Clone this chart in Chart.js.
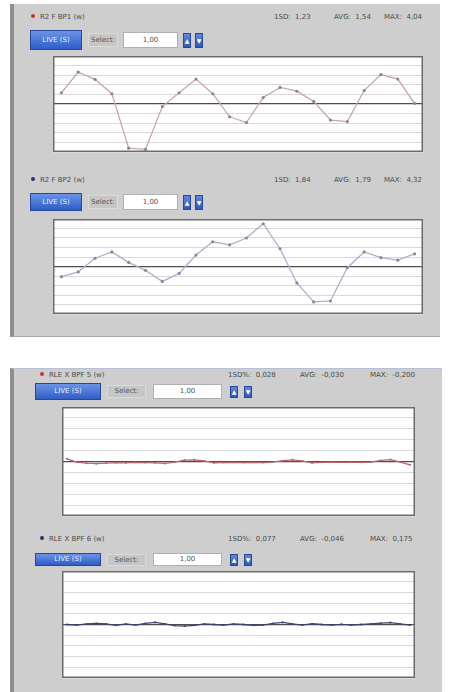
<!DOCTYPE html>
<html>
<head>
<meta charset="utf-8">
<script src="https://cdn.jsdelivr.net/npm/chart.js@4/dist/chart.umd.min.js"></script>
<style>
  html, body { margin: 0; padding: 0; background: #ffffff; }
  body { width: 460px; height: 692px; position: relative; overflow: hidden;
         font-family: "DejaVu Sans", "Liberation Sans", sans-serif; }
  .panel { position: absolute; background: #cecece; border-left: 4px solid #8e8e8e; box-sizing: border-box; }
  .hdr { position: absolute; font-size: 7px; color: #4a4a4a; white-space: nowrap; line-height: 9px; }
  .dot { display: inline-block; width: 4px; height: 4px; border-radius: 50%; margin-right: 5px; vertical-align: 1px; }
  .stat { position: absolute; font-size: 7px; color: #4a4a4a; white-space: nowrap; line-height: 9px; }
  .btn { position: absolute; box-sizing: border-box; background: linear-gradient(#6b93e6, #2f5dc6);
         border: 1px solid #27479a; color: #e8eeff; font-size: 7px; text-align: center; }
  .lbl { position: absolute; box-sizing: border-box; background: #c6c6c6; border: 1px solid #dadada;
         color: #555; font-size: 7px; text-align: center; }
  .inp { position: absolute; box-sizing: border-box; background: #ffffff; border: 1px solid #b0b0b0;
         color: #555; font-size: 7px; text-align: center; }
  .sq { position: absolute; box-sizing: border-box; background: linear-gradient(#5f88e0, #2d58c0);
        border: 1px solid #27479a; color: #ffffff; font-size: 6px; text-align: center; }
  canvas { position: absolute; }
</style>
</head>
<body>

<div class="panel" style="left:10px; top:4px; width:430px; height:333px; border-bottom:1px solid #a8a8a8;"></div>
<div class="panel" style="left:10px; top:368px; width:432px; height:324px; border-top:1px solid #b8c0d8;"></div>

<!-- upper panel, first channel -->
<div class="hdr" style="left:31px; top:13px;"><span class="dot" style="background:#d23030"></span>R2 F BP1 (w)</div>
<div class="stat" style="left:274px; top:13px;">1SD: &nbsp;1,23</div>
<div class="stat" style="left:334px; top:13px;">AVG: &nbsp;1,54</div>
<div class="stat" style="left:384px; top:13px;">MAX: &nbsp;4,04</div>
<div class="btn" style="left:30px; top:30px; width:52px; height:20px; line-height:18px;">LIVE (S)</div>
<div class="lbl" style="left:88px; top:33px; width:30px; height:14px; line-height:12px;">Select:</div>
<div class="inp" style="left:123px; top:32px; width:55px; height:16px; line-height:14px;">1,00</div>
<div class="sq" style="left:183px; top:33px; width:8px; height:15px; line-height:13px;">&#9650;</div>
<div class="sq" style="left:195px; top:33px; width:8px; height:15px; line-height:13px;">&#9660;</div>
<canvas id="c1" width="378" height="104" style="left:49px; top:52px;"></canvas>

<!-- upper panel, second channel -->
<div class="hdr" style="left:31px; top:176px;"><span class="dot" style="background:#2a2f70"></span>R2 F BP2 (w)</div>
<div class="stat" style="left:274px; top:176px;">1SD: &nbsp;1,84</div>
<div class="stat" style="left:334px; top:176px;">AVG: &nbsp;1,79</div>
<div class="stat" style="left:384px; top:176px;">MAX: &nbsp;4,32</div>
<div class="btn" style="left:30px; top:193px; width:52px; height:18px; line-height:16px;">LIVE (S)</div>
<div class="lbl" style="left:88px; top:195px; width:30px; height:14px; line-height:12px;">Select:</div>
<div class="inp" style="left:123px; top:194px; width:55px; height:16px; line-height:14px;">1,00</div>
<div class="sq" style="left:183px; top:195px; width:8px; height:15px; line-height:13px;">&#9650;</div>
<div class="sq" style="left:195px; top:195px; width:8px; height:15px; line-height:13px;">&#9660;</div>
<canvas id="c2" width="378" height="103" style="left:49px; top:215px;"></canvas>

<!-- lower panel, first channel -->
<div class="hdr" style="left:40px; top:371px;"><span class="dot" style="background:#d23030"></span>RLE X BPF 5 (w)</div>
<div class="stat" style="left:228px; top:371px;">1SD%: &nbsp;0,028</div>
<div class="stat" style="left:300px; top:371px;">AVG: &nbsp;-0,030</div>
<div class="stat" style="left:370px; top:371px;">MAX: &nbsp;-0,200</div>
<div class="btn" style="left:35px; top:383px; width:66px; height:17px; line-height:15px;">LIVE (S)</div>
<div class="lbl" style="left:107px; top:385px; width:39px; height:13px; line-height:11px;">Select:</div>
<div class="inp" style="left:153px; top:384px; width:69px; height:15px; line-height:13px;">1,00</div>
<div class="sq" style="left:230px; top:386px; width:8px; height:12px; line-height:10px;">&#9650;</div>
<div class="sq" style="left:244px; top:386px; width:8px; height:12px; line-height:10px;">&#9660;</div>
<canvas id="c3" width="361" height="117" style="left:58px; top:403px;"></canvas>

<!-- lower panel, second channel -->
<div class="hdr" style="left:40px; top:535px;"><span class="dot" style="background:#2a2f70"></span>RLE X BPF 6 (w)</div>
<div class="stat" style="left:228px; top:535px;">1SD%: &nbsp;0,077</div>
<div class="stat" style="left:300px; top:535px;">AVG: &nbsp;-0,046</div>
<div class="stat" style="left:370px; top:535px;">MAX: &nbsp;0,175</div>
<div class="btn" style="left:35px; top:553px; width:66px; height:13px; line-height:11px;">LIVE (S)</div>
<div class="lbl" style="left:107px; top:554px; width:39px; height:12px; line-height:10px;">Select:</div>
<div class="inp" style="left:153px; top:553px; width:69px; height:13px; line-height:11px;">1,00</div>
<div class="sq" style="left:230px; top:554px; width:8px; height:12px; line-height:10px;">&#9650;</div>
<div class="sq" style="left:244px; top:554px; width:8px; height:12px; line-height:10px;">&#9660;</div>
<canvas id="c4" width="361" height="115" style="left:58px; top:567px;"></canvas>

<script>
// Sample indices
const samplesA = [1,2,3,4,5,6,7,8,9,10,11,12,13,14,15,16,17,18,19,20,21,22];
const samplesB = [1,2,3,4,5,6,7,8,9,10,11,12,13,14,15,16,17,18,19,20,21,22,23,24,25,26,27,28,29,30,31,32,33,34,35,36];

// Channel readings
const bp1 = [1.17, 3.33, 2.57, 1.07, -4.6, -4.73, -0.27, 1.17, 2.6, 1.07, -1.33,
             -1.93, 0.67, 1.73, 1.33, 0.27, -1.67, -1.83, 1.4, 3.07, 2.6, 0.07];
const bp2 = [-1.07, -0.57, 0.87, 1.53, 0.43, -0.4, -1.57, -0.73, 1.2, 2.6, 2.27,
             3.0, 4.5, 1.87, -1.73, -3.73, -3.63, -0.13, 1.53, 0.93, 0.67, 1.33];
const bpf5 = [0.25, -0.05, -0.15, -0.2, -0.15, -0.1, -0.12, -0.08, -0.1, -0.12, -0.18, -0.05,
              0.12, 0.15, 0.05, -0.12, -0.1, -0.08, -0.1, -0.08, -0.1, -0.05, 0.08, 0.15,
              0.05, -0.12, -0.08, -0.05, -0.08, -0.05, -0.08, -0.05, 0.1, 0.18, -0.05, -0.3];
const bpf6 = [0.0, -0.05, 0.05, 0.1, 0.05, -0.08, 0.05, -0.05, 0.1, 0.2, 0.05, -0.1,
              -0.15, -0.08, 0.05, 0.0, -0.05, 0.05, 0.0, -0.08, -0.05, 0.1, 0.2, 0.05,
              -0.05, 0.08, 0.0, -0.05, 0.02, -0.05, 0.0, 0.05, 0.12, 0.18, 0.05, -0.05];

// Value axis
const axisMin = -5;
const axisMax = 5;
const axisStep = 1;

// White plot face and dark frame around the plotting area
const plotFrame = {
  id: 'plotFrame',
  beforeDraw(chart) {
    const a = chart.chartArea, ctx = chart.ctx;
    ctx.save();
    ctx.fillStyle = '#ffffff';
    ctx.fillRect(a.left, a.top, a.right - a.left, a.bottom - a.top);
    ctx.restore();
  },
  afterDraw(chart) {
    const a = chart.chartArea, ctx = chart.ctx;
    ctx.save();
    ctx.strokeStyle = '#6c6c6c';
    ctx.lineWidth = 1.5;
    ctx.strokeRect(a.left + 0.75, a.top + 0.75, a.right - a.left - 1.5, a.bottom - a.top - 1.5);
    ctx.restore();
  }
};

function makeChart(id, labels, values, lineColor, pointColor, pointRadius) {
  return new Chart(document.getElementById(id), {
    type: 'line',
    data: {
      labels: labels,
      datasets: [{
        data: values,
        borderColor: lineColor,
        borderWidth: 1.3,
        pointRadius: pointRadius,
        pointBackgroundColor: pointColor,
        pointBorderWidth: 0,
        tension: 0
      }]
    },
    options: {
      responsive: false,
      animation: false,
      layout: { padding: 0 },
      plugins: { legend: { display: false }, tooltip: { enabled: false } },
      scales: {
        x: { display: false, offset: true },
        y: {
          min: axisMin, max: axisMax,
          ticks: { display: false, stepSize: axisStep },
          border: { display: false },
          grid: {
            drawTicks: false,
            color: c => c.tick.value === 0 ? '#4e4e4e' : '#dadada',
            lineWidth: c => c.tick.value === 0 ? 1.2 : 1
          },
          afterFit: s => { s.width = 0; }
        }
      }
    },
    plugins: [plotFrame]
  });
}

makeChart('c1', samplesA, bp1, '#c9a7b0', '#8a8a8a', 1.6);
makeChart('c2', samplesA, bp2, '#aeaed6', '#8a8a9a', 1.6);
makeChart('c3', samplesB, bpf5, '#cc5f6e', '#7a7a7a', 1.0);
makeChart('c4', samplesB, bpf6, '#3d4470', '#3d4470', 1.0);
</script>
</body>
</html>
